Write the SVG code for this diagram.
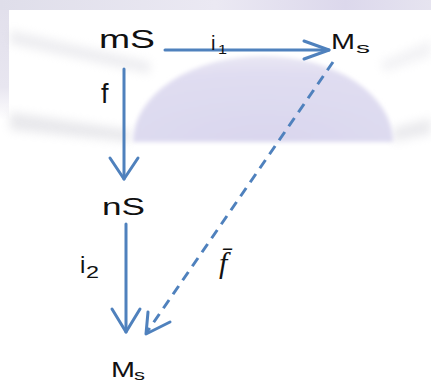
<svg xmlns="http://www.w3.org/2000/svg" width="431" height="385" viewBox="0 0 431 385">
<defs>
<style>
.lbl{font-family:"Liberation Sans",Arial,sans-serif;fill:#111;}
.arr{stroke:#4f81bd;stroke-width:3;fill:none;stroke-linecap:round;stroke-linejoin:round;}
.dash{stroke:#4f81bd;stroke-width:3;fill:none;stroke-dasharray:10 7;}
</style>
<radialGradient id="domeG" cx="0.5" cy="1" r="1">
<stop offset="0" stop-color="#d9d6ee"/>
<stop offset="0.8" stop-color="#e0ddf1"/>
<stop offset="1" stop-color="#e9e7f4"/>
</radialGradient>
<linearGradient id="topG" x1="0" y1="0" x2="1" y2="0">
<stop offset="0" stop-color="#dfdeea"/>
<stop offset="0.5" stop-color="#ebe9f3"/>
<stop offset="0.8" stop-color="#dcd8ec"/>
<stop offset="1" stop-color="#e6e4f0"/>
</linearGradient>
<linearGradient id="leftG" x1="0" y1="0" x2="0" y2="1">
<stop offset="0" stop-color="#e2e0ec"/>
<stop offset="0.7" stop-color="#e8e6f0"/>
<stop offset="1" stop-color="#ffffff"/>
</linearGradient>
<filter id="blur" x="-20%" y="-50%" width="140%" height="200%"><feGaussianBlur stdDeviation="5"/></filter>
<filter id="blur2"><feGaussianBlur stdDeviation="2"/></filter>
</defs>
<g id="background">
<rect x="0" y="0" width="431" height="385" fill="#ffffff"/>
<rect x="0" y="0" width="431" height="10" fill="url(#topG)"/>
<rect x="0" y="10" width="9" height="110" fill="url(#leftG)"/>
<g filter="url(#blur)" opacity="0.4">
<polygon points="10,30 150,62 150,74 10,44" fill="#d4d4dc"/>
<polygon points="10,112 130,130 130,142 10,130" fill="#c8c8d0"/>
<polygon points="393,128 431,118 431,134 393,142" fill="#ccccd4"/>
<polygon points="380,62 431,40 431,56 385,72" fill="#e0e0e6"/>
</g>
<path d="M133,142 A130,86 0 0 1 393,142 Z" fill="url(#domeG)" filter="url(#blur2)"/>
</g>
<g id="connectors">
<g id="e-i1">
<line class="arr" x1="165" y1="50" x2="329" y2="50"/>
<polyline class="arr" points="304,41 329,50 304,59"/>
</g>
<g id="e-f">
<line class="arr" x1="124" y1="69" x2="124" y2="179"/>
<polyline class="arr" points="110,158 124,179 138,158"/>
</g>
<g id="e-i2">
<line class="arr" x1="126" y1="224" x2="126" y2="332"/>
<polyline class="arr" points="112,309 126,332 140,309"/>
</g>
<g id="e-fbar">
<line class="dash" x1="333" y1="62" x2="147" y2="332"/>
<polyline class="arr" points="148,312 146,334 170,322"/>
</g>
</g>
<g id="n-mS"><text class="lbl" x="99" y="48" font-size="25" textLength="56" lengthAdjust="spacingAndGlyphs">mS</text></g>
<g id="n-Ms1">
<text class="lbl" x="331" y="49" font-size="22" textLength="24" lengthAdjust="spacingAndGlyphs">M</text>
<text class="lbl" x="356" y="53" font-size="15" textLength="14" lengthAdjust="spacingAndGlyphs">s</text>
</g>
<g id="n-nS"><text class="lbl" x="102" y="215" font-size="23" textLength="43" lengthAdjust="spacingAndGlyphs">nS</text></g>
<g id="n-Ms2">
<text class="lbl" x="111" y="377" font-size="22" textLength="24" lengthAdjust="spacingAndGlyphs">M</text>
<text class="lbl" x="134" y="380" font-size="15" textLength="11" lengthAdjust="spacingAndGlyphs">s</text>
</g>
<g id="labels">
<text class="lbl" x="211" y="50" font-size="20">i</text>
<text class="lbl" x="218" y="54" font-size="13" textLength="9" lengthAdjust="spacingAndGlyphs">1</text>
<text class="lbl" x="101" y="103" font-size="27">f</text>
<text class="lbl" x="80" y="273" font-size="24">i</text>
<text class="lbl" x="86" y="278" font-size="17" textLength="13" lengthAdjust="spacingAndGlyphs">2</text>
<text x="219" y="273" font-size="30" font-style="italic" font-family="'Liberation Serif','Times New Roman',serif" fill="#111">f̄</text>
</g>
</svg>
